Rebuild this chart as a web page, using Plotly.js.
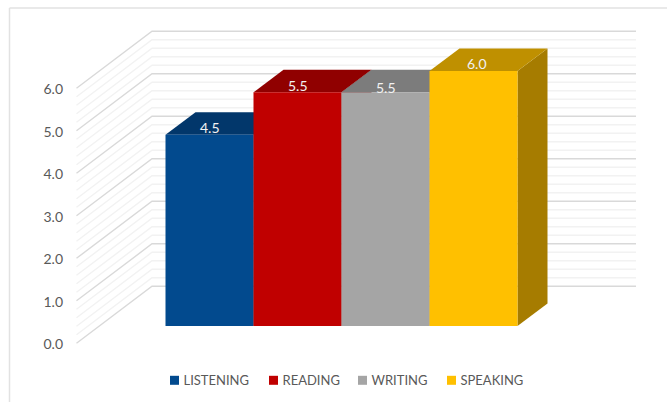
<!DOCTYPE html>
<html>
<head>
<meta charset="utf-8">
<script src="https://cdn.plot.ly/plotly-3.0.1.min.js"></script>
<style>html,body{margin:0;padding:0;background:#fff}#chart{width:667px;height:402px}</style>
</head>
<body>
<div id="chart"></div>
<script>
const categories = ["LISTENING", "READING", "WRITING", "SPEAKING"];
const scores = [4.5, 5.5, 5.5, 6.0];
const tickValues = [0, 1, 2, 3, 4, 5, 6];
const tickLabels = ["0.0", "1.0", "2.0", "3.0", "4.0", "5.0", "6.0"];
const frontColors = ["#024A8E", "#C00000", "#A5A5A5", "#FFC000"];
const topColors = ["#02376B", "#900000", "#7C7C7C", "#BF9000"];
const sideColors = ["#012F5C", "#7A0000", "#6B6B6B", "#A67C00"];

/* oblique projection, in axis units */
const W = 667, H = 402;
const L = 76, R = 27, T = 10, B = 42;
const pxPerCat = 88, pxPerVal = 42.5, originX = 209.5, zeroY = 343.3;
const xRange = [(L - originX) / pxPerCat, (W - R - originX) / pxPerCat];
const yRange = [(zeroY - (H - B)) / pxPerVal, (zeroY - T) / pxPerVal];
const barBase = 17.3 / pxPerVal;
const depthX = 30 / pxPerCat, depthY = 22.4 / pxPerVal;
const wallFrontX = (76.5 - originX) / pxPerCat;
const wallBackX = (152 - originX) / pxPerCat;
const wallEndX = (636 - originX) / pxPerCat;
const wallRise = 57 / pxPerVal;

function gridTrace(isMajor) {
  const xs = [], ys = [];
  for (let k = 0; k <= 30; k++) {
    if ((k % 5 === 0) !== isMajor) continue;
    const v = k / 5;
    xs.push(wallFrontX, wallBackX, wallEndX, null);
    ys.push(v, v + wallRise, v + wallRise, null);
  }
  return {
    type: "scatter", mode: "lines", x: xs, y: ys, showlegend: false, hoverinfo: "skip",
    line: { color: isMajor ? "#D9D9D9" : "#F2F2F2", width: 1.4 }
  };
}

const traces = [gridTrace(false), gridTrace(true)];

/* side and top faces, back layer */
categories.forEach((name, i) => {
  const top = barBase + scores[i];
  const xr = i + 0.5, xl = i - 0.5;
  traces.push({
    type: "scatter", mode: "lines", fill: "toself", fillcolor: sideColors[i],
    x: [xr, xr + depthX, xr + depthX, xr, xr],
    y: [barBase, barBase + depthY, top + depthY, top, barBase],
    line: { width: 0 }, showlegend: false, hoverinfo: "skip"
  });
  traces.push({
    type: "scatter", mode: "lines", fill: "toself", fillcolor: topColors[i],
    x: [xl, xl + depthX, xr + depthX, xr, xl],
    y: [top, top + depthY, top + depthY, top, top],
    line: { width: 0 }, showlegend: false, hoverinfo: "skip"
  });
});

/* front faces, on an overlaid subplot so they cover the faces behind */
categories.forEach((name, i) => {
  traces.push({
    type: "bar", name: name, x: [i], y: [scores[i]], base: barBase, width: 1,
    xaxis: "x2", yaxis: "y2",
    marker: { color: frontColors[i], line: { width: 0 } },
    hovertemplate: name + ": %{y:.1f}<extra></extra>"
  });
});

const labelNudgeX = [0, 0, 0, 3.5];
const labelNudgeY = [7, 7, 5, 8];
const annotations = categories.map((name, i) => ({
  x: i, y: barBase + scores[i], xref: "x", yref: "y",
  text: scores[i].toFixed(1), showarrow: false,
  xanchor: "center", yanchor: "middle",
  xshift: labelNudgeX[i], yshift: labelNudgeY[i],
  font: { family: "Lato, sans-serif", size: 14, color: "#F2F2F2" }
}));

const layout = {
  width: W, height: H, autosize: false,
  margin: { l: L, r: R, t: T, b: B, pad: 0 },
  paper_bgcolor: "#FFFFFF", plot_bgcolor: "rgba(0,0,0,0)",
  barmode: "overlay",
  font: { family: "Lato, sans-serif", color: "#595959" },
  xaxis: { range: xRange, visible: false, fixedrange: true },
  yaxis: {
    range: yRange, tickmode: "array", tickvals: tickValues, ticktext: tickLabels,
    showgrid: false, zeroline: false, showline: false, ticks: "", ticklabelstandoff: 12,
    ticklabelshift: 1,
    tickfont: { family: "Lato, sans-serif", size: 14, color: "#595959" }, fixedrange: true
  },
  xaxis2: { range: xRange, overlaying: "x", visible: false, fixedrange: true },
  yaxis2: { range: yRange, overlaying: "y", visible: false, fixedrange: true },
  legend: {
    orientation: "h", x: 0.5, xref: "container", xanchor: "center",
    y: 0.055, yref: "container", yanchor: "middle",
    itemwidth: 30, traceorder: "normal",
    font: { family: "Lato, sans-serif", size: 13, color: "#595959" },
    bgcolor: "rgba(0,0,0,0)"
  },
  shapes: [
    { type: "line", xref: "paper", yref: "paper",
      x0: (9.5 - L) / (W - L - R), x1: (W - L) / (W - L - R),
      y0: 1 + (T - 8) / (H - T - B), y1: 1 + (T - 8) / (H - T - B),
      line: { color: "#E2E2E2", width: 1.5 } },
    { type: "line", xref: "paper", yref: "paper",
      x0: (9.5 - L) / (W - L - R), x1: (9.5 - L) / (W - L - R),
      y0: 1 + (T - 8) / (H - T - B), y1: -B / (H - T - B),
      line: { color: "#E2E2E2", width: 1.5 } }
  ],
  annotations: annotations
};

/* tighten the native legend: small swatches close to their labels */
const legendSwatchLeft = [170, 269, 358, 447];
const legendCentreY = 380.3;
Plotly.newPlot("chart", traces, layout, { displayModeBar: false, responsive: false }).then(gd => {
  const legend = gd.querySelector(".legend");
  if (!legend) return;
  const box = legend.getCTM();
  const scroll = legend.querySelector(".scrollbox");
  if (scroll) scroll.removeAttribute("clip-path");
  legend.querySelectorAll(".traces").forEach((g, i) => {
    g.setAttribute("transform", "translate(" + (legendSwatchLeft[i] - box.e) + "," + (legendCentreY - box.f) + ")");
    const swatch = g.querySelector("path.legendbar") || g.querySelector(".legendpoints path");
    if (swatch) {
      swatch.setAttribute("d", "M4.5,4.5H-4.5V-4.5H4.5Z");
      swatch.setAttribute("transform", "translate(4.5,0)");
      swatch.style.strokeWidth = "0";
    }
    const label = g.querySelector(".legendtext");
    if (label) label.setAttribute("x", "13.5");
  });
});
</script>
</body>
</html>
